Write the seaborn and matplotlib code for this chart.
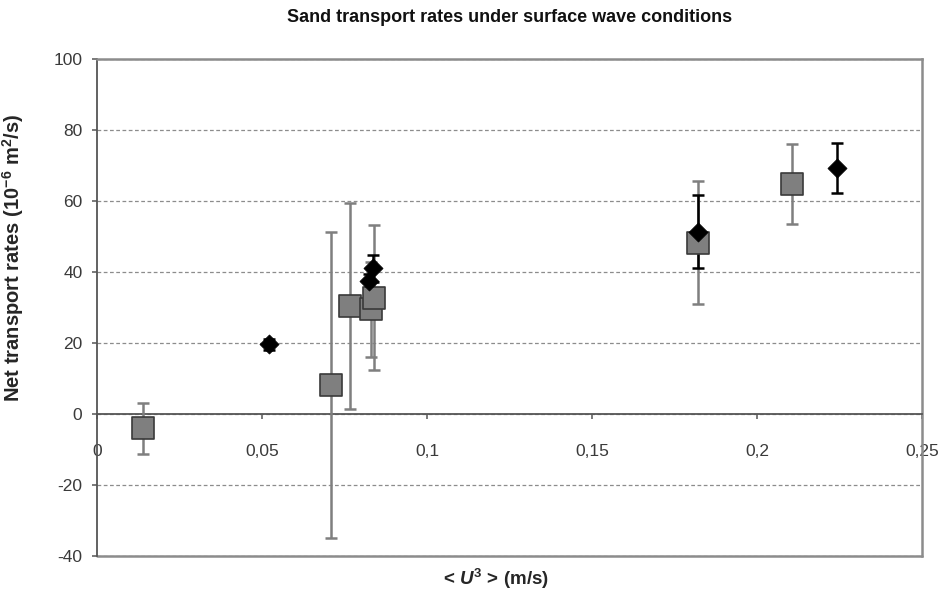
import numpy as np
import pandas as pd
import matplotlib
matplotlib.use("Agg")
import matplotlib.pyplot as plt
import seaborn as sns

# ---- data ----
sq_x = [0.014, 0.0708, 0.0768, 0.0829, 0.0839, 0.182, 0.2105]
sq_y = [-4.0, 8.2, 30.3, 29.5, 32.8, 48.3, 64.7]
sq_err = [7.2, 43.0, 29.0, 13.4, 20.5, 17.4, 11.3]

dm_x = [0.052, 0.0825, 0.0835, 0.182, 0.2242]
dm_y = [19.6, 37.5, 41.0, 51.4, 69.3]
dm_err = [1.6, 2.0, 3.8, 10.2, 7.0]

y_ticks = [-40, -20, 0, 20, 40, 60, 80, 100]
x_ticks = [0, 0.05, 0.1, 0.15, 0.2, 0.25]
x_tick_labels = ["0", "0,05", "0,1", "0,15", "0,2", "0,25"]

title = "Sand transport rates under surface wave conditions"
ylabel = "Net transport rates (10$^{-6}$ m$^{2}$/s)"
xlabel = "< $U^{3}$ > (m/s)"

sns.set_theme(style="white")
plt.rcParams["font.family"] = ["Liberation Sans", "DejaVu Sans"]
plt.rcParams["mathtext.fontset"] = "custom"
plt.rcParams["mathtext.rm"] = "Liberation Sans:bold"
plt.rcParams["mathtext.it"] = "Liberation Sans:bold:italic"
plt.rcParams["mathtext.bf"] = "Liberation Sans:bold"

fig = plt.figure(figsize=(9.43, 5.96), dpi=100)
ax = fig.add_axes([97 / 943, 1 - 556 / 596, (922 - 97) / 943, (556 - 59) / 596])

sq_df = pd.DataFrame({"x": sq_x, "y": sq_y, "err": sq_err})
dm_df = pd.DataFrame({"x": dm_x, "y": dm_y, "err": dm_err})

# error bars
ax.errorbar(sq_df["x"], sq_df["y"], yerr=sq_df["err"], fmt="none",
            ecolor="#7f7f7f", elinewidth=1.8, capsize=4, capthick=1.8, zorder=3)
ax.errorbar(dm_df["x"], dm_df["y"], yerr=dm_df["err"], fmt="none",
            ecolor="#000000", elinewidth=1.8, capsize=4, capthick=1.8, zorder=4)

# markers
sns.scatterplot(data=sq_df, x="x", y="y", marker="s", s=235, color="#7f7f7f",
                edgecolor="#3a3a3a", linewidth=1.2, ax=ax, zorder=5, legend=False)
sns.scatterplot(data=dm_df, x="x", y="y", marker="D", s=95, color="#000000",
                edgecolor="#000000", linewidth=0.5, ax=ax, zorder=6, legend=False)

ax.set_xlim(0, 0.25)
ax.set_ylim(-40, 100)
ax.set_yticks(y_ticks)
ax.set_yticklabels([str(v) for v in y_ticks])
ax.set_xticks(x_ticks)
ax.set_xticklabels(x_tick_labels)

# grid
ax.yaxis.grid(True, linestyle=(0, (3, 2)), color="#8c8c8c", linewidth=0.9)
ax.xaxis.grid(False)
ax.set_axisbelow(True)

# spines
ax.spines["bottom"].set_position(("data", 0))
ax.spines["bottom"].set_color("#555555")
ax.spines["bottom"].set_linewidth(1.3)
ax.spines["left"].set_color("#555555")
ax.spines["left"].set_linewidth(1.3)
for s in ["top", "right"]:
    ax.spines[s].set_visible(True)
    ax.spines[s].set_color("#8c8c8c")
    ax.spines[s].set_linewidth(1.8)
ax.axhline(-40, color="#8c8c8c", linewidth=1.8, clip_on=False, zorder=2)

ax.tick_params(axis="both", which="major", direction="out", length=3.5, width=1.1,
               color="#555555", labelsize=12.5, labelcolor="#3a3a3a")
ax.tick_params(axis="y", pad=7, left=True)
ax.tick_params(axis="x", pad=18, bottom=True)

ax.set_xlabel(xlabel, fontsize=13.5, fontweight="bold")
ax.set_ylabel(ylabel, fontsize=14.5, fontweight="bold")
ax.xaxis.set_label_coords((496 - 97) / 825, (556 - 567) / 497)
ax.yaxis.set_label_coords((26 - 97) / 825, (556 - 258) / 497)

fig.text(510 / 943, 1 - 18 / 596, title, ha="center", va="center",
         fontsize=13, fontweight="bold", color="#111111")

fig.savefig("out.png", dpi=100)
